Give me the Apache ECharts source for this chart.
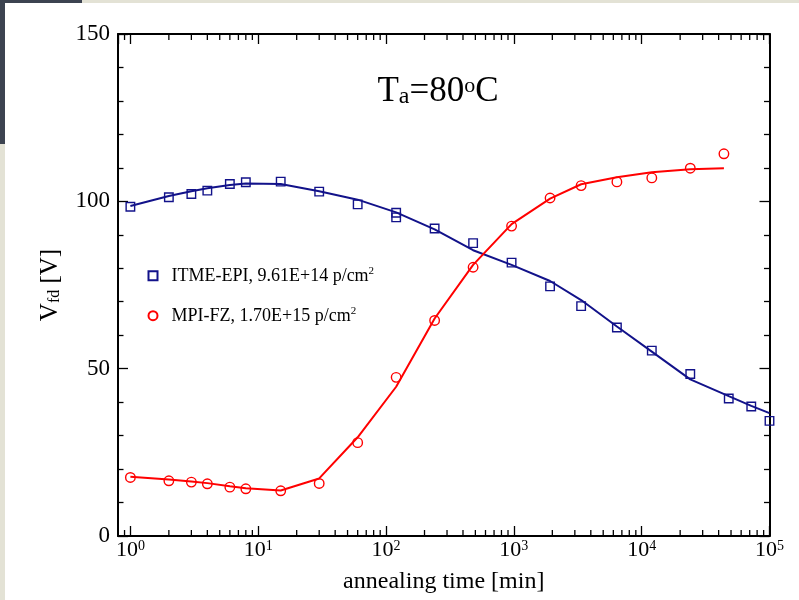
<!DOCTYPE html>
<html>
<head>
<meta charset="utf-8">
<script src="https://cdn.jsdelivr.net/npm/echarts@6/dist/echarts.min.js"></script>
<style>
html,body{margin:0;padding:0;background:#ffffff;}
#c{width:799px;height:600px;}
</style>
</head>
<body>
<div id="c"></div>
<script>
// ---- data ----
const itmeTimes = [1, 2, 3, 4, 6, 8, 15, 30, 60, 120, 120, 240, 480, 960, 1920, 3360, 6400, 12000, 24000, 48000, 72000, 100000];
const itmeVfd   = [98.4, 101.2, 102.2, 103.2, 105.2, 105.7, 105.9, 102.9, 99.1, 96.6, 95.2, 91.9, 87.5, 81.7, 74.6, 68.7, 62.3, 55.4, 48.4, 41.1, 38.7, 34.4];
const mpiTimes  = [1, 2, 3, 4, 6, 8, 15, 30, 60, 120, 240, 480, 960, 1920, 3360, 6400, 12000, 24000, 44000];
const mpiVfd    = [17.5, 16.5, 16.1, 15.6, 14.6, 14.1, 13.5, 15.7, 27.9, 47.4, 64.4, 80.3, 92.6, 101.0, 104.7, 105.8, 107.0, 109.9, 114.2];

const itmeFitTimes = [1, 2, 3, 4, 6, 8, 15, 30, 60, 120, 240, 480, 960, 1920, 3360, 6400, 12000, 24000, 48000, 72000, 100000];
const itmeFitVfd   = [98.6, 101.6, 103.0, 103.9, 104.9, 105.3, 105.2, 103.0, 100.5, 96.7, 91.6, 85.4, 81.0, 76.2, 70.5, 62.6, 55.1, 46.8, 41.8, 38.9, 36.7];
const mpiFitTimes  = [1, 2, 3, 4, 6, 8, 15, 30, 60, 120, 240, 480, 960, 1920, 3360, 6400, 12000, 24000, 44000];
const mpiFitVfd    = [17.7, 16.9, 16.3, 15.8, 14.9, 14.3, 13.6, 17.2, 29.5, 44.6, 65.0, 81.0, 93.2, 100.8, 105.1, 107.2, 108.7, 109.6, 109.9];

const legendLabels = ['ITME-EPI, 9.61E+14 p/cm²', 'MPI-FZ, 1.70E+15 p/cm²'];
const xMajorTicks = [1, 10, 100, 1000, 10000, 100000];
const xTickLabels = ['10^0', '10^1', '10^2', '10^3', '10^4', '10^5'];
const xMinorTicks = [0.9, 2, 3, 4, 5, 6, 7, 8, 9, 20, 30, 40, 50, 60, 70, 80, 90,
  200, 300, 400, 500, 600, 700, 800, 900, 2000, 3000, 4000, 5000, 6000, 7000, 8000, 9000,
  20000, 30000, 40000, 50000, 60000, 70000, 80000, 90000];
const yTicks = [0, 50, 100, 150];
const titleText = '{t|T}{sub|a}{t|=80}{sup|o}{t|C}';
const xName = 'annealing time [min]';
const yNameRich = '{v|V}{s|fd}{v| [V]}';

// ---- styles ----
const FF = '"Liberation Serif", "Times New Roman", Times, serif';
const NAVY = '#12128a';
const RED = '#ff0000';

const chart = echarts.init(document.getElementById('c'), null, {renderer: 'canvas'});

function xLabel(v) {
  let idx = -1;
  for (let i = 0; i < xMajorTicks.length; i++) {
    if (Math.abs(Math.log10(v) - Math.log10(xMajorTicks[i])) < 1e-6) idx = i;
  }
  if (idx < 0) return '';
  const parts = xTickLabels[idx].split('^');
  return '{b|' + parts[0] + '}{s|' + parts[1] + '}';
}

const axisLineStyle = {show: true, onZero: false, lineStyle: {color: '#000', width: 2}};
const majorTick = {show: true, inside: true, length: 10, lineStyle: {color: '#000', width: 1.3}};

const xAxisCommon = {
  type: 'log', logBase: 10, min: 0.8, max: 100000,
  axisLine: axisLineStyle, axisTick: majorTick, splitLine: {show: false},
  minorTick: {show: false}, minorSplitLine: {show: false}
};
const yAxisCommon = {
  type: 'value', min: 0, max: 150, interval: 50,
  axisLine: axisLineStyle, axisTick: majorTick, splitLine: {show: false},
  minorTick: {show: true, splitNumber: 5, length: 5.5, lineStyle: {color: '#000', width: 1.3}},
  minorSplitLine: {show: false}
};

const option = {
  backgroundColor: '#ffffff',
  animation: false,
  grid: {left: 118, right: 29.5, top: 34, bottom: 64, containLabel: false, outerBoundsMode: 'none'},
  title: {
    text: titleText, left: 438, top: 74, padding: 0, textAlign: 'center',
    textStyle: {
      color: '#000', fontFamily: FF, fontSize: 35, fontWeight: 'normal',
      rich: {
        t: {color: '#000', fontFamily: FF, fontSize: 35, lineHeight: 35, verticalAlign: 'top', padding: [0, 0, 6, 0]},
        sub: {color: '#000', fontFamily: FF, fontSize: 24, lineHeight: 24, verticalAlign: 'bottom'},
        sup: {color: '#000', fontFamily: FF, fontSize: 22, lineHeight: 20, verticalAlign: 'top', padding: [1, 0, 0, 0]}
      }
    }
  },
  graphic: [
    {type: 'rect', z: 100, shape: {x: 0, y: 0, width: 799, height: 3}, style: {fill: '#e3e2d5'}},
    {type: 'rect', z: 100, shape: {x: 0, y: 0, width: 5, height: 600}, style: {fill: '#e3e2d5'}},
    {type: 'rect', z: 101, shape: {x: 0, y: 0, width: 82, height: 3}, style: {fill: '#3c4350'}},
    {type: 'rect', z: 101, shape: {x: 0, y: 0, width: 5, height: 144}, style: {fill: '#3c4350'}}
  ],
  legend: {
    show: true, orient: 'vertical', left: 147.5, top: 265.7, padding: 0,
    itemWidth: 9, itemHeight: 9, itemGap: 20, selectedMode: false,
    data: legendLabels,
    formatter: function (name) {
      return '{a|  ' + name.replace('²', '}{sup|2}');
    },
    textStyle: {
      color: '#000', fontFamily: FF, fontSize: 18,
      rich: {
        a: {color: '#000', fontFamily: FF, fontSize: 18, lineHeight: 20, verticalAlign: 'bottom'},
        sup: {color: '#000', fontFamily: FF, fontSize: 11, lineHeight: 11, verticalAlign: 'top'}
      }
    }
  },
  xAxis: [
    Object.assign({}, xAxisCommon, {
      position: 'bottom',
      name: xName, nameLocation: 'middle', nameGap: 34,
      nameTextStyle: {color: '#000', fontFamily: FF, fontSize: 24},
      axisLabel: {
        show: true, showMinLabel: false, margin: 3, color: '#000',
        formatter: xLabel,
        rich: {
          b: {color: '#000', fontFamily: FF, fontSize: 22, lineHeight: 22, verticalAlign: 'bottom', padding: [3, 0, 0, 0]},
          s: {color: '#000', fontFamily: FF, fontSize: 14, lineHeight: 14, verticalAlign: 'top'}
        }
      }
    }),
    Object.assign({}, xAxisCommon, {position: 'top', axisLabel: {show: false}})
  ],
  yAxis: [
    Object.assign({}, yAxisCommon, {
      position: 'left',
      name: yNameRich, nameLocation: 'middle', nameRotate: 90, nameGap: 55,
      nameTextStyle: {
        color: '#000', fontFamily: FF, fontSize: 25,
        rich: {
          v: {color: '#000', fontFamily: FF, fontSize: 25, lineHeight: 25, verticalAlign: 'bottom'},
          s: {color: '#000', fontFamily: FF, fontSize: 16, lineHeight: 15, verticalAlign: 'bottom'}
        }
      },
      axisLabel: {
        show: true, margin: 8, color: '#000', fontFamily: FF, fontSize: 23,
        customValues: yTicks
      }
    }),
    Object.assign({}, yAxisCommon, {position: 'right', axisLabel: {show: false}})
  ],
  series: [
    {
      name: 'itmeFit', type: 'line', xAxisIndex: 0, yAxisIndex: 0,
      data: itmeFitTimes.map((t, i) => [t, itmeFitVfd[i]]),
      showSymbol: false, symbol: 'none', smooth: false,
      lineStyle: {color: NAVY, width: 2}, z: 2, silent: true
    },
    {
      name: 'mpiFit', type: 'line', xAxisIndex: 0, yAxisIndex: 0,
      data: mpiFitTimes.map((t, i) => [t, mpiFitVfd[i]]),
      showSymbol: false, symbol: 'none', smooth: false,
      lineStyle: {color: RED, width: 2}, z: 2, silent: true
    },
    {
      name: legendLabels[0], type: 'scatter', xAxisIndex: 0, yAxisIndex: 0,
      data: itmeTimes.map((t, i) => [t, itmeVfd[i]]),
      symbol: 'rect', symbolSize: 8.5,
      itemStyle: {color: 'rgba(255,255,255,0)', borderColor: NAVY, borderWidth: 1.4, opacity: 1},
      z: 3, silent: true
    },
    {
      name: legendLabels[1], type: 'scatter', xAxisIndex: 0, yAxisIndex: 0,
      data: mpiTimes.map((t, i) => [t, mpiVfd[i]]),
      symbol: 'circle', symbolSize: 9.5,
      itemStyle: {color: 'rgba(255,255,255,0)', borderColor: RED, borderWidth: 1.4, opacity: 1},
      z: 3, silent: true
    },
    {
      name: 'xMinorTicks', type: 'custom', xAxisIndex: 0, yAxisIndex: 0,
      data: xMinorTicks.map(v => [v, 0]),
      silent: true, z: 4, clip: false,
      renderItem: function (params, api) {
        const v = api.value(0);
        const b = api.coord([v, 0]);
        const t = api.coord([v, 150]);
        const st = {stroke: '#000', lineWidth: 1.3};
        return {
          type: 'group',
          children: [
            {type: 'line', shape: {x1: b[0], y1: b[1], x2: b[0], y2: b[1] - 6}, style: st},
            {type: 'line', shape: {x1: t[0], y1: t[1], x2: t[0], y2: t[1] + 6}, style: st}
          ]
        };
      }
    }
  ]
};
chart.setOption(option);
</script>
</body>
</html>
